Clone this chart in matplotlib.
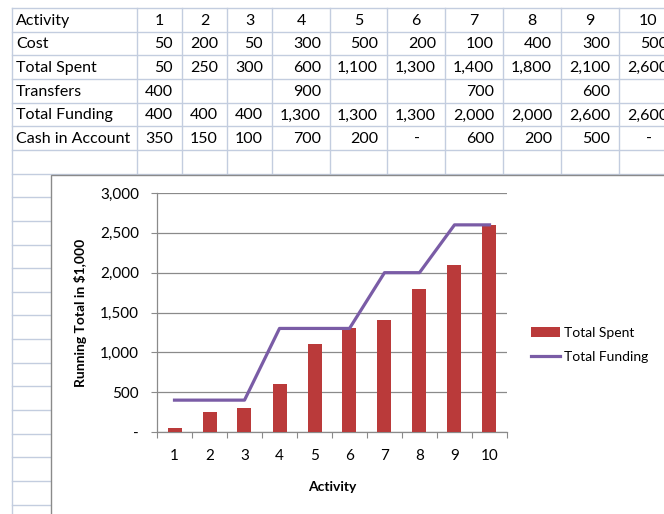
"""
Spreadsheet screenshot: activity cost / funding table with running-total chart.
"""

import matplotlib
matplotlib.use('Agg')
import matplotlib.pyplot as plt
from matplotlib.patches import Rectangle

plt.rcParams['font.family'] = ['Lato', 'DejaVu Sans']

ACTIVITY = [1, 2, 3, 4, 5, 6, 7, 8, 9, 10]
COST = [50, 200, 50, 300, 500, 200, 100, 400, 300, 500]
TOTAL_SPENT = [50, 250, 300, 600, 1100, 1300, 1400, 1800, 2100, 2600]
TRANSFERS = [400, None, None, 900, None, None, 700, None, 600, None]
TOTAL_FUNDING = [400, 400, 400, 1300, 1300, 1300, 2000, 2000, 2600, 2600]
CASH_IN_ACCOUNT = [350, 150, 100, 700, 200, 0, 600, 200, 500, 0]
ROW_LABELS = ['Activity', 'Cost', 'Total Spent', 'Transfers', 'Total Funding', 'Cash in Account']
Y_TICKS = [0, 500, 1000, 1500, 2000, 2500, 3000]

# sheet geometry in screen pixels
W, H = 664, 514
COL_EDGES = [12, 137, 182, 227, 272, 330, 387, 445, 503, 561, 619, 677]
ROW_TOP = 8
ROW_H = 23.65
GRID_COLOR = '#C3CDDF'
BAR_COLOR = '#BA3A3A'
LINE_COLOR = '#7A5CA6'
AXIS_GRAY = '#8A8A8A'
TABLE_FS = 11.5


def fmt(v):
    # Excel accounting style: zero shown as a dash
    if v is None:
        return ''
    if v == 0:
        return '-'
    return f'{v:,}'


def draw_sheet(bg):
    # gridlines of the worksheet
    for i in range(22):
        y = ROW_TOP + i * ROW_H
        bg.plot([COL_EDGES[0], W], [y, y], color=GRID_COLOR, lw=1, zorder=1)
    bg.plot([COL_EDGES[0], COL_EDGES[0]], [ROW_TOP, H], color=GRID_COLOR, lw=1, zorder=1)
    for x in COL_EDGES[1:]:
        bg.plot([x, x], [ROW_TOP, 200], color=GRID_COLOR, lw=1, zorder=1)

    rows = [COST, TOTAL_SPENT, TRANSFERS, TOTAL_FUNDING, CASH_IN_ACCOUNT]
    for r, label in enumerate(ROW_LABELS):
        yc = ROW_TOP + (r + 0.5) * ROW_H + 1
        bg.text(16, yc, label, fontsize=TABLE_FS, ha='left', va='center', zorder=2)
        for c in range(10):
            left, right = COL_EDGES[c + 1], COL_EDGES[c + 2]
            if r == 0:
                bg.text((left + right) / 2, yc, str(ACTIVITY[c]), fontsize=TABLE_FS,
                        ha='center', va='center', zorder=2)
                continue
            s = fmt(rows[r - 1][c])
            if s == '-':
                bg.text(right - 28, yc, s, fontsize=TABLE_FS, ha='center', va='center', zorder=2)
            elif s:
                bg.text(right - 9, yc, s, fontsize=TABLE_FS, ha='right', va='center', zorder=2)

    # chart object frame (runs off the right and bottom of the screenshot)
    bg.add_patch(Rectangle((51, 175), 700, 400, facecolor='white',
                           edgecolor=AXIS_GRAY, lw=1, zorder=3))


def draw_chart(fig):
    ax = fig.add_axes([157 / W, 1 - 432 / H, 350 / W, 239 / H])
    ax.set_facecolor('white')

    bars = ax.bar(ACTIVITY, TOTAL_SPENT, width=0.4, color=BAR_COLOR, zorder=3)
    line, = ax.plot(ACTIVITY, TOTAL_FUNDING, color=LINE_COLOR, lw=2.3, zorder=4)

    ax.set_xlim(0.5, 10.5)
    ax.set_ylim(0, 3000)
    ax.set_yticks(Y_TICKS)
    ax.set_yticklabels([fmt(v) for v in Y_TICKS])
    ax.yaxis.grid(True, color=AXIS_GRAY, lw=0.9)
    ax.set_axisbelow(True)

    # category boundaries get tick marks, centres get the labels
    ax.set_xticks([i + 0.5 for i in range(11)])
    ax.set_xticklabels([])
    ax.set_xticks(ACTIVITY, minor=True)
    ax.set_xticklabels([str(a) for a in ACTIVITY], minor=True)

    for side in ['top', 'right']:
        ax.spines[side].set_visible(False)
    for side in ['left', 'bottom']:
        ax.spines[side].set_color(AXIS_GRAY)
        ax.spines[side].set_linewidth(0.9)
    ax.tick_params(axis='y', direction='out', length=4, color=AXIS_GRAY, labelsize=11, pad=9)
    ax.tick_params(axis='x', which='major', direction='out', length=4, color=AXIS_GRAY)
    ax.tick_params(axis='x', which='minor', length=0, labelsize=11, pad=12)

    ax.set_ylabel('Running Total in $1,000', fontsize=10, fontweight='bold', va='center')
    ax.yaxis.set_label_coords((80 - 157) / 350, 0.5)
    ax.set_xlabel('Activity', fontsize=10, fontweight='bold', va='center')
    ax.xaxis.set_label_coords(0.5, (432 - 487) / 239)

    fig.legend([bars, line], ['Total Spent', 'Total Funding'], loc='center left',
               bbox_to_anchor=(531 / W, 1 - 345 / H), frameon=False, fontsize=10,
               handlelength=2.1, handletextpad=0.3, labelspacing=0.85,
               borderpad=0, borderaxespad=0)


if __name__ == "__main__":
    fig = plt.figure(figsize=(W / 100, H / 100), dpi=100)
    bg = fig.add_axes([0, 0, 1, 1])
    bg.set_xlim(0, W)
    bg.set_ylim(H, 0)
    bg.axis('off')

    draw_sheet(bg)
    draw_chart(fig)

    fig.savefig('out.png', dpi=100)
